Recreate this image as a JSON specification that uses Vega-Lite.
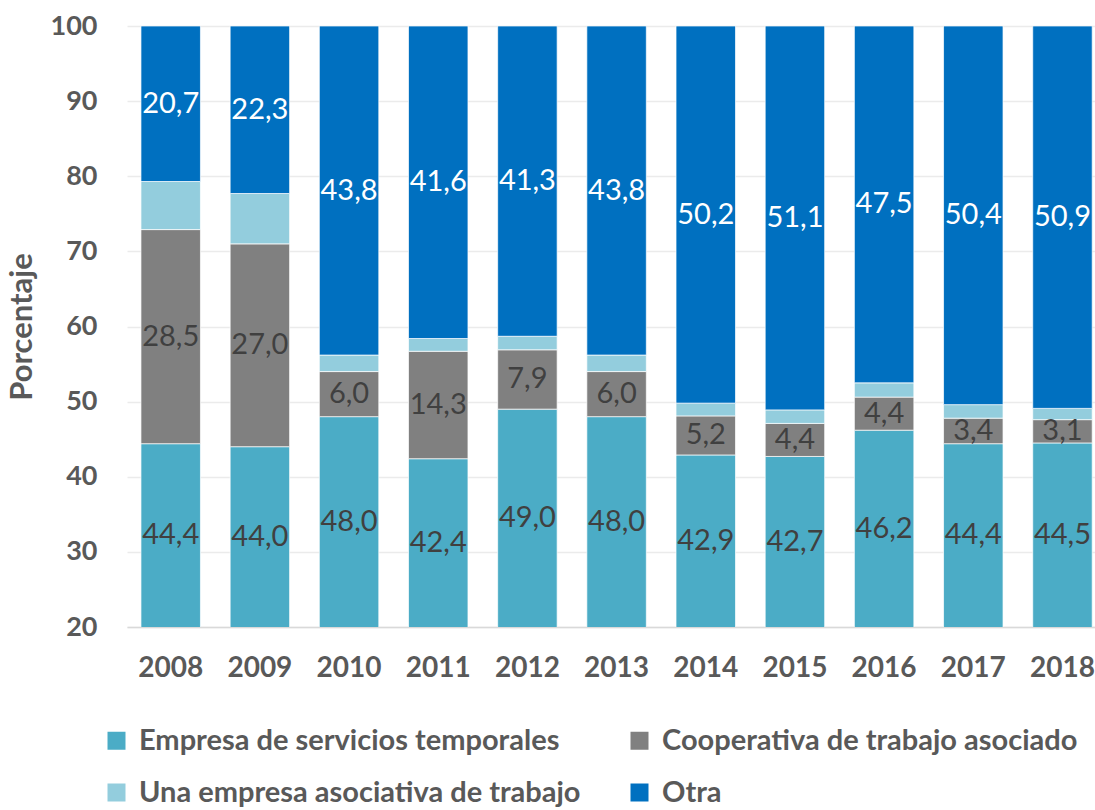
{
  "$schema": "https://vega.github.io/schema/vega-lite/v6.json",
  "autosize": "none",
  "width": 968,
  "height": 601,
  "padding": {"left": 127, "top": 26, "right": 0, "bottom": 183},
  "background": "white",
  "config": {
    "view": {"stroke": null},
    "font": "Lato",
    "locale": {"number": {"decimal": ",", "thousands": ".", "grouping": [3], "currency": ["", ""]}}
  },
  "data": {
    "values": [
      {"year": "2008", "cat": "Empresa de servicios temporales", "k": 1, "pct": 44.4},
      {"year": "2008", "cat": "Cooperativa de trabajo asociado", "k": 2, "pct": 28.5},
      {"year": "2008", "cat": "Una empresa asociativa de trabajo", "k": 3, "pct": 6.4},
      {"year": "2008", "cat": "Otra", "k": 4, "pct": 20.7},
      {"year": "2009", "cat": "Empresa de servicios temporales", "k": 1, "pct": 44.0},
      {"year": "2009", "cat": "Cooperativa de trabajo asociado", "k": 2, "pct": 27.0},
      {"year": "2009", "cat": "Una empresa asociativa de trabajo", "k": 3, "pct": 6.7},
      {"year": "2009", "cat": "Otra", "k": 4, "pct": 22.3},
      {"year": "2010", "cat": "Empresa de servicios temporales", "k": 1, "pct": 48.0},
      {"year": "2010", "cat": "Cooperativa de trabajo asociado", "k": 2, "pct": 6.0},
      {"year": "2010", "cat": "Una empresa asociativa de trabajo", "k": 3, "pct": 2.2},
      {"year": "2010", "cat": "Otra", "k": 4, "pct": 43.8},
      {"year": "2011", "cat": "Empresa de servicios temporales", "k": 1, "pct": 42.4},
      {"year": "2011", "cat": "Cooperativa de trabajo asociado", "k": 2, "pct": 14.3},
      {"year": "2011", "cat": "Una empresa asociativa de trabajo", "k": 3, "pct": 1.7},
      {"year": "2011", "cat": "Otra", "k": 4, "pct": 41.6},
      {"year": "2012", "cat": "Empresa de servicios temporales", "k": 1, "pct": 49.0},
      {"year": "2012", "cat": "Cooperativa de trabajo asociado", "k": 2, "pct": 7.9},
      {"year": "2012", "cat": "Una empresa asociativa de trabajo", "k": 3, "pct": 1.8},
      {"year": "2012", "cat": "Otra", "k": 4, "pct": 41.3},
      {"year": "2013", "cat": "Empresa de servicios temporales", "k": 1, "pct": 48.0},
      {"year": "2013", "cat": "Cooperativa de trabajo asociado", "k": 2, "pct": 6.0},
      {"year": "2013", "cat": "Una empresa asociativa de trabajo", "k": 3, "pct": 2.2},
      {"year": "2013", "cat": "Otra", "k": 4, "pct": 43.8},
      {"year": "2014", "cat": "Empresa de servicios temporales", "k": 1, "pct": 42.9},
      {"year": "2014", "cat": "Cooperativa de trabajo asociado", "k": 2, "pct": 5.2},
      {"year": "2014", "cat": "Una empresa asociativa de trabajo", "k": 3, "pct": 1.7},
      {"year": "2014", "cat": "Otra", "k": 4, "pct": 50.2},
      {"year": "2015", "cat": "Empresa de servicios temporales", "k": 1, "pct": 42.7},
      {"year": "2015", "cat": "Cooperativa de trabajo asociado", "k": 2, "pct": 4.4},
      {"year": "2015", "cat": "Una empresa asociativa de trabajo", "k": 3, "pct": 1.8},
      {"year": "2015", "cat": "Otra", "k": 4, "pct": 51.1},
      {"year": "2016", "cat": "Empresa de servicios temporales", "k": 1, "pct": 46.2},
      {"year": "2016", "cat": "Cooperativa de trabajo asociado", "k": 2, "pct": 4.4},
      {"year": "2016", "cat": "Una empresa asociativa de trabajo", "k": 3, "pct": 1.9},
      {"year": "2016", "cat": "Otra", "k": 4, "pct": 47.5},
      {"year": "2017", "cat": "Empresa de servicios temporales", "k": 1, "pct": 44.4},
      {"year": "2017", "cat": "Cooperativa de trabajo asociado", "k": 2, "pct": 3.4},
      {"year": "2017", "cat": "Una empresa asociativa de trabajo", "k": 3, "pct": 1.8},
      {"year": "2017", "cat": "Otra", "k": 4, "pct": 50.4},
      {"year": "2018", "cat": "Empresa de servicios temporales", "k": 1, "pct": 44.5},
      {"year": "2018", "cat": "Cooperativa de trabajo asociado", "k": 2, "pct": 3.1},
      {"year": "2018", "cat": "Una empresa asociativa de trabajo", "k": 3, "pct": 1.5},
      {"year": "2018", "cat": "Otra", "k": 4, "pct": 50.9}
    ]
  },
  "transform": [
    {"stack": "pct", "groupby": ["year"], "sort": [{"field": "k", "order": "ascending"}], "as": ["y0", "y1"]},
    {"calculate": "(max(datum.y0, 20) + datum.y1) / 2", "as": "mid"}
  ],
  "encoding": {
    "x": {
      "field": "year", "type": "ordinal",
      "scale": {"paddingInner": 0.333, "paddingOuter": 0.094, "align": 0.833},
      "axis": {
        "title": null, "labelAngle": 0, "labelFontSize": 28, "labelFontWeight": "bold",
        "labelColor": "#595959", "labelPadding": 27, "ticks": false,
        "domainColor": "#d9d9d9", "domainWidth": 1.5
      }
    }
  },
  "layer": [
    {
      "mark": {"type": "bar", "clip": true, "stroke": "white", "strokeWidth": 1, "strokeOpacity": 0.7},
      "encoding": {
        "y": {
          "field": "y0", "type": "quantitative",
          "scale": {"domain": [20, 100], "nice": false, "zero": false},
          "axis": {
            "title": "Porcentaje", "titleFontSize": 31, "titleFontWeight": "bold", "titleColor": "#595959",
            "titleX": -105, "titleY": 300.5, "titleAngle": -90, "titleAlign": "center", "titleBaseline": "middle",
            "values": [20, 30, 40, 50, 60, 70, 80, 90, 100],
            "labelFontSize": 27, "labelFontWeight": "bold", "labelColor": "#595959", "labelPadding": 30,
            "domain": false, "ticks": false, "grid": true, "gridColor": "#ebebeb", "gridWidth": 1.5
          }
        },
        "y2": {"field": "y1"},
        "color": {
          "field": "cat", "type": "nominal",
          "scale": {
            "domain": ["Empresa de servicios temporales", "Cooperativa de trabajo asociado", "Una empresa asociativa de trabajo", "Otra"],
            "range": ["#4BACC6", "#808080", "#93CDDD", "#0070C0"]
          },
          "legend": {
            "title": null, "orient": "none", "legendX": -25, "legendY": 700, "columns": 2,
            "direction": "horizontal",
            "symbolType": "square", "symbolSize": 324, "symbolStrokeWidth": 0,
            "labelFontSize": 29, "labelFontWeight": "bold", "labelColor": "#595959", "labelOffset": 8,
            "labelLimit": 600, "columnPadding": 44, "rowPadding": 22, "padding": 0
          }
        }
      }
    },
    {
      "transform": [{"filter": "datum.k != 3"}],
      "mark": {"type": "text", "fontSize": 29, "align": "center", "baseline": "middle"},
      "encoding": {
        "y": {"field": "mid", "type": "quantitative"},
        "text": {"field": "pct", "type": "quantitative", "format": ".1f"},
        "color": {"condition": {"test": "datum.k == 4", "value": "white"}, "value": "#404040"}
      }
    }
  ]
}
